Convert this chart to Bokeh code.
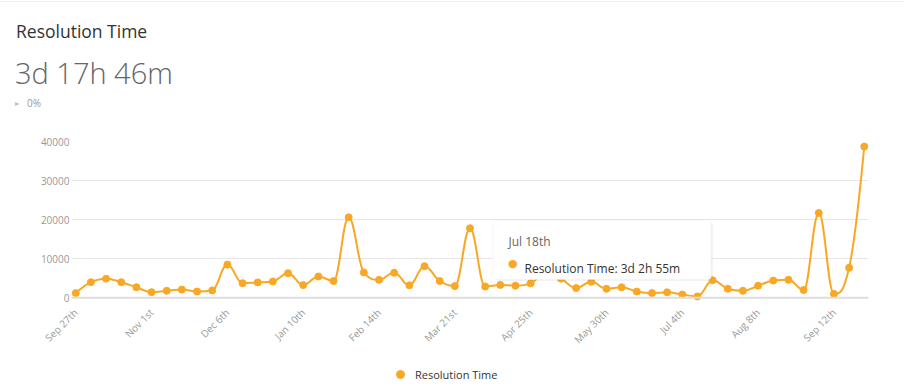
import math
from bokeh.plotting import figure
from bokeh.layouts import column
from bokeh.models import (Range1d, FixedTicker, Label, BoxAnnotation, Legend,
                          LegendItem, Span, ColumnDataSource, Div)
from bokeh.embed import file_html
from bokeh.resources import INLINE

# ---------------- data ----------------
title_text = "Resolution Time"
headline_text = "3d 17h 46m"
change_text = "0%"
series_name = "Resolution Time"

week_index = list(range(53))  # weekly buckets, Sep 27th .. Sep 26th
resolution_minutes = [
    1200, 4000, 4900, 4000, 2700, 1450, 1800, 2100, 1600, 1900,
    8500, 3750, 3950, 4200, 6300, 3250, 5450, 4300, 20600, 6500,
    4600, 6400, 3200, 8100, 4300, 3000, 17800, 2900, 3300, 3100,
    3700, 6500, 4900, 2500, 4100, 2300, 2700, 1600, 1200, 1400,
    850, 350, 4495, 2300, 1800, 3100, 4400, 4600, 2000, 21700,
    1000, 7700, 38700,
]
tick_weeks = [0, 5, 10, 15, 20, 25, 30, 35, 40, 45, 50]
tick_labels = ["Sep 27th", "Nov 1st", "Dec 6th", "Jan 10th", "Feb 14th",
               "Mar 21st", "Apr 25th", "May 30th", "Jul 4th", "Aug 8th",
               "Sep 12th"]
y_ticks = [0, 10000, 20000, 30000, 40000]
tooltip_week = 42
tooltip_date = "Jul 18th"
tooltip_value = "3d 2h 55m"

ORANGE = "#f9a825"
FONT = "Open Sans"
W = 910
BL, BR = 71, 42          # left / right borders shared by the plots


# Highcharts-style spline control points
def spline(xs, ys, smoothing=1.5):
    n = len(xs)
    lc = [(x, y) for x, y in zip(xs, ys)]
    rc = [(x, y) for x, y in zip(xs, ys)]
    d = smoothing + 1
    for i in range(1, n - 1):
        px, py = xs[i], ys[i]
        lx, ly = xs[i - 1], ys[i - 1]
        nx, ny = xs[i + 1], ys[i + 1]
        lcx = (smoothing * px + lx) / d
        lcy = (smoothing * py + ly) / d
        rcx = (smoothing * px + nx) / d
        rcy = (smoothing * py + ny) / d
        if rcx != lcx:
            corr = ((rcy - lcy) * (rcx - px)) / (rcx - lcx) + py - rcy
            lcy += corr
            rcy += corr
            if lcy > ly and lcy > py:
                lcy = max(ly, py); rcy = 2 * py - lcy
            elif lcy < ly and lcy < py:
                lcy = min(ly, py); rcy = 2 * py - lcy
            if rcy > ny and rcy > py:
                rcy = max(ny, py); lcy = 2 * py - rcy
            elif rcy < ny and rcy < py:
                rcy = min(ny, py); lcy = 2 * py - rcy
        lc[i] = (lcx, lcy)
        rc[i] = (rcx, rcy)
    seg = dict(x0=[], y0=[], x1=[], y1=[], cx0=[], cy0=[], cx1=[], cy1=[])
    for i in range(1, n):
        seg["x0"].append(xs[i - 1]); seg["y0"].append(ys[i - 1])
        seg["x1"].append(xs[i]); seg["y1"].append(ys[i])
        seg["cx0"].append(rc[i - 1][0]); seg["cy0"].append(rc[i - 1][1])
        seg["cx1"].append(lc[i][0]); seg["cy1"].append(lc[i][1])
    return seg


# ---------------- header (HTML text) ----------------
H1 = 128
header_html = f"""
<div style="position:relative;width:{W}px;height:{H1}px;margin:0;padding:0;
            font-family:'Open Sans',sans-serif;">
  <div style="position:absolute;left:0;top:1px;width:904px;height:0;
              border-top:1px solid #f0f0f0;"></div>
  <span style="position:absolute;left:16px;top:18.8px;font-size:17.5px;
               color:#333333;white-space:nowrap;">{title_text}</span>
  <span style="position:absolute;left:15px;top:51.6px;font-size:29px;
               font-weight:300;color:#666666;
               white-space:nowrap;">{headline_text}</span>
  <span style="position:absolute;left:15px;top:97px;font-size:8px;
               color:#bbbbbb;">&#9656;</span>
  <span style="position:absolute;left:27px;top:96.3px;font-size:10px;
               color:#999999;">{change_text}</span>
</div>
"""
header = Div(text=header_html, width=W, height=H1, margin=0)

# ---------------- main chart ----------------
H3 = 32
H2 = 386 - H1 - H3
FT = 13          # frame top inside this figure (page y 141)
FH = 161         # frame height
p = figure(width=W, height=H2,
           x_range=Range1d(-0.28, 52.28), y_range=Range1d(-1200, 40000),
           output_backend="svg", toolbar_location=None,
           min_border_left=BL, min_border_right=BR,
           min_border_top=FT, min_border_bottom=H2 - FT - FH)
p.outline_line_color = None
p.background_fill_color = "white"
p.border_fill_color = "white"

p.xgrid.grid_line_color = None
p.ygrid.ticker = FixedTicker(ticks=y_ticks)
p.ygrid.grid_line_color = "#e6e6e6"
p.ygrid.grid_line_width = 1

xa = p.xaxis[0]
xa.ticker = FixedTicker(ticks=tick_weeks)
xa.major_label_overrides = {w: l for w, l in zip(tick_weeks, tick_labels)}
xa.major_label_orientation = math.pi / 4
xa.axis_line_color = None
xa.major_tick_line_color = None
xa.minor_tick_line_color = None
xa.major_tick_out = 0
xa.major_label_standoff = 8
xa.major_label_text_font = FONT
xa.major_label_text_font_size = "10px"
xa.major_label_text_color = "#999999"

ya = p.yaxis[0]
ya.ticker = FixedTicker(ticks=y_ticks)
ya.major_label_overrides = {t: str(t) for t in y_ticks}
ya.axis_line_color = None
ya.major_tick_line_color = None
ya.minor_tick_line_color = None
ya.major_tick_out = 0
ya.major_label_standoff = 2
ya.major_label_text_font = FONT
ya.major_label_text_font_size = "10px"
ya.major_label_text_color = "#999999"

p.add_layout(Span(location=0, dimension="width", line_color="#dddddd",
                  line_width=2))

seg = spline(week_index, resolution_minutes)
p.bezier(x0="x0", y0="y0", x1="x1", y1="y1", cx0="cx0", cy0="cy0",
         cx1="cx1", cy1="cy1", source=ColumnDataSource(seg),
         line_color=ORANGE, line_width=2, line_cap="round")
src = ColumnDataSource(dict(x=week_index, y=resolution_minutes))
p.scatter("x", "y", source=src, size=7, fill_color=ORANGE, line_color=ORANGE)

# tooltip (hover box for Jul 18th)
p.add_layout(BoxAnnotation(left=27.62, right=42.02, top=19500, bottom=4300,
                           fill_color="black", fill_alpha=0.05,
                           line_color=None, border_radius=4))
p.add_layout(BoxAnnotation(left=27.5, right=41.9, top=19780, bottom=4680,
                           fill_color="white", fill_alpha=1.0,
                           line_color="#e8e8e8", line_width=1,
                           border_radius=3))
# screen units relative to frame bottom-left (frame bottom at page y 302)
p.add_layout(Label(x=437, y=61.5, x_units="screen", y_units="screen",
                   text=tooltip_date, text_font=FONT, text_font_size="12px",
                   text_color="#666666", text_baseline="alphabetic"))
p.add_layout(Label(x=441.3, y=38.7, x_units="screen", y_units="screen",
                   text="\u25cf", text_font="DejaVu Sans",
                   text_font_size="11px", text_color=ORANGE,
                   text_align="center", text_baseline="middle"))
p.add_layout(Label(x=453, y=34.5, x_units="screen", y_units="screen",
                   text=f"{series_name}: {tooltip_value}", text_font=FONT,
                   text_font_size="12px", text_color="#333333",
                   text_baseline="alphabetic"))

# ---------------- footer with the legend ----------------
foot = figure(width=W, height=H3, x_range=Range1d(0, 1),
              y_range=Range1d(-2, -1), output_backend="svg",
              toolbar_location=None, x_axis_location=None,
              y_axis_location=None, min_border_left=BL, min_border_right=BR,
              min_border_top=0, min_border_bottom=0)
foot.grid.visible = False
foot.outline_line_color = None
foot.background_fill_color = "white"
foot.border_fill_color = "white"
# same series source; its points lie outside this strip's range
key = foot.scatter("x", "y", source=src, size=7, fill_color=ORANGE,
                   line_color=ORANGE)
legend = Legend(items=[LegendItem(label=series_name, renderers=[key])],
                location=(400 - 10 - BL, 2), orientation="horizontal",
                glyph_width=20, glyph_height=20, label_standoff=5,
                label_text_font=FONT, label_text_font_size="11px",
                label_text_color="#333333", padding=0, margin=0,
                border_line_color=None, background_fill_alpha=0)
foot.add_layout(legend, "center")

layout = column(header, p, foot, spacing=0)
open("out.html", "w").write(file_html(layout, INLINE))
